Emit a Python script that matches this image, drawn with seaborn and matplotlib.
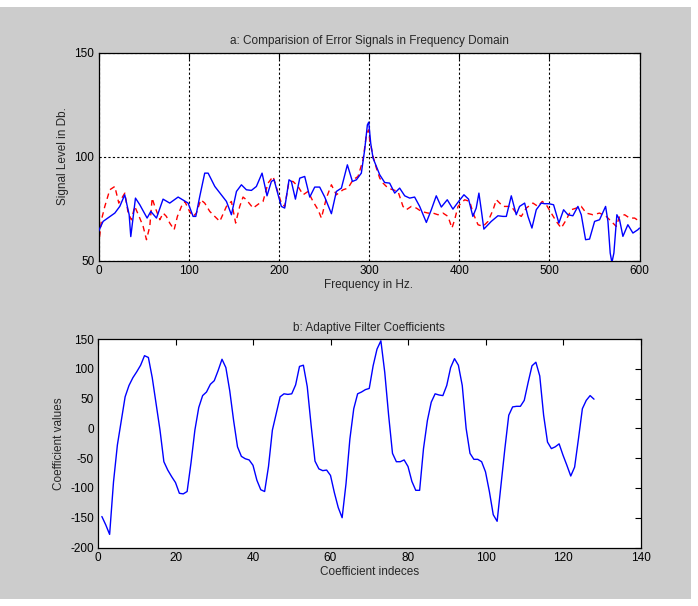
import matplotlib
matplotlib.use("Agg")
import matplotlib.pyplot as plt
from matplotlib import font_manager
import seaborn as sns
import numpy as np

# ---------------- data ----------------
blue_freq = [0, 5.1, 18.1, 23.6, 29.1, 34.0, 35.8, 41.0, 45.8, 53.9, 58.0, 64.3, 71.6, 79.0,
             88.3, 99.4, 104.9, 107.9, 112.3, 117.8, 121.6, 129.0, 141.9, 147.4, 153.0, 158.5,
             164.0, 169.6, 175.1, 181.4, 186.9, 191.7, 194.7, 199.2, 202.8, 206.5, 211.3,
             213.9, 218.4, 223.2, 228.7, 234.3, 239.8, 245.3, 250.9, 258.3, 263.8, 269.4,
             276.0, 281.6, 286.0, 291.5, 295.2, 298.2, 299.7, 301.9, 304.5, 308.2, 311.9,
             317.4, 322.9, 328.5, 334.0, 339.6, 345.1, 350.6, 356.2, 363.6, 369.1, 374.6,
             380.2, 386.8, 393.1, 399.4, 405.3, 410.4, 415.2, 418.9, 421.9, 424.5, 427.4,
             435.6, 443.0, 448.6, 452.3, 457.8, 463.3, 467.0, 472.6, 476.3, 480.7, 485.5,
             491.0, 494.7, 499.5, 504.7, 510.6, 515.8, 520.6, 526.1, 531.7, 535.4, 540.2,
             544.6, 550.2, 555.7, 562.4, 565.0, 567.5, 569.4, 571.6, 574.9, 577.9, 581.6,
             587.1, 592.7, 598.2, 600.0]
blue_db = [64.0, 68.8, 72.8, 76.0, 81.6, 72.0, 61.5, 80.0, 76.8, 70.4, 73.6, 70.4, 79.5, 77.6,
           80.5, 77.6, 71.2, 71.2, 80.8, 92.0, 92.0, 85.6, 78.4, 72.0, 83.2, 86.4,
           84.0, 83.7, 85.6, 92.0, 81.1, 88.0, 88.8, 81.6, 76.0, 75.2, 88.8,
           88.0, 79.5, 89.6, 90.4, 80.5, 85.3, 85.3, 80.5, 72.5, 83.2, 84.8,
           96.0, 88.0, 88.8, 92.0, 103.2, 115.2, 116.5, 106.4, 99.2, 95.2, 91.2,
           87.5, 87.2, 82.4, 84.8, 81.1, 80.0, 80.5, 76.0, 68.3, 74.4, 81.1,
           75.7, 79.2, 74.7, 78.4, 81.6, 79.5, 71.2, 75.2, 82.4, 74.4, 65.1,
           68.8, 71.5, 71.2, 71.2, 81.1, 72.0, 76.0, 77.6, 71.2, 65.6, 74.4,
           77.6, 77.3, 77.3, 76.8, 68.0, 74.4, 72.0, 71.5, 76.0, 72.0, 60.0,
           60.3, 68.8, 69.6, 76.0, 68.8, 53.6, 49.0, 53.6, 72.0, 69.6, 61.6,
           67.2, 63.2, 64.8, 65.6]

red_freq = [0, 3.3, 7.0, 12.5, 18.1, 22.5, 29.2, 32.9, 36.5, 40.2, 45.0, 49.5, 53.2, 56.9,
            59.5, 62.4, 68.0, 71.7, 75.3, 79.0, 83.9, 87.5, 92.0, 95.7, 101.0, 104.9, 108.6,
            113.4, 117.8, 123.4, 128.9, 134.5, 141.9, 147.4, 152.1, 156.6, 160.3, 164.0,
            171.4, 178.8, 182.5, 188.0, 193.6, 199.2, 202.8, 206.5, 211.3, 215.8, 221.3,
            226.9, 232.4, 237.9, 243.5, 247.2, 252.7, 258.3, 263.8, 271.2, 276.7, 282.3,
            287.8, 293.4, 297.1, 299.5, 300.8, 304.5, 308.2, 311.9, 315.6, 321.1, 326.6,
            332.2, 337.7, 341.4, 346.9, 352.5, 358.0, 365.4, 371.0, 376.5, 382.0, 387.6,
            392.0, 395.0, 398.7, 406.1, 411.7, 415.4, 420.9, 426.5, 432.0, 437.6, 441.3,
            448.6, 457.8, 463.3, 468.9, 474.4, 481.8, 487.4, 492.2, 496.6, 502.1, 507.7,
            513.2, 518.8, 524.3, 529.9, 535.4, 540.9, 548.3, 555.7, 563.1, 568.7, 574.2,
            577.9, 583.5, 589.0, 594.6, 600.0]
red_db = [56.7, 69.6, 76.0, 84.0, 85.6, 77.6, 82.4, 72.8, 69.6, 76.0, 71.2, 66.4, 60.0, 66.4,
          80.0, 76.0, 69.6, 72.8, 71.2, 68.0, 64.8, 71.2, 76.0, 78.4, 73.6, 71.2, 72.8,
          79.2, 77.6, 73.6, 71.2, 68.8, 76.0, 78.4, 68.0, 76.0, 80.5, 79.2,
          75.2, 77.6, 78.4, 87.2, 90.4, 82.4, 77.6, 76.0, 88.0, 88.0, 85.6,
          81.6, 83.2, 78.4, 74.4, 70.4, 80.0, 86.4, 81.6, 84.0, 84.8, 88.8,
          90.4, 98.4, 110.4, 112.8, 108.0, 100.0, 94.4, 89.6, 87.2, 84.8, 84.0,
          83.2, 76.0, 74.4, 76.0, 75.2, 73.6, 72.8, 72.8, 72.0, 72.8, 71.2,
          65.6, 69.6, 76.0, 79.2, 78.4, 72.8, 67.2, 66.4, 68.8, 74.4, 79.2,
          76.0, 76.0, 72.8, 71.2, 75.2, 77.6, 76.0, 78.4, 76.8, 72.8, 68.8,
          65.6, 69.6, 74.4, 75.2, 76.0, 72.8, 72.0, 72.8, 71.2, 68.8, 66.4,
          71.2, 72.0, 70.4, 70.4, 68.8]

coef_index = list(range(1, 129))
coef_values = [-148, -162, -178, -90, -28, 13, 53, 72, 85, 95, 106, 122, 119, 85, 41, -3,
               -56, -70, -81, -91, -109, -110, -106, -58, -3, 35, 55, 61, 74, 80, 97, 116,
               102, 63, 13, -31, -47, -51, -53, -62, -87, -103, -106, -64, -3, 25, 53, 58,
               57, 58, 73, 104, 106, 70, 5, -55, -68, -71, -70, -79, -108, -133, -150, -93,
               -18, 33, 58, 61, 65, 67, 105, 133, 147, 94, 22, -42, -56, -56, -53, -64,
               -89, -104, -104, -34, 13, 44, 58, 56, 55, 72, 102, 117, 106, 72, 0, -42,
               -52, -52, -56, -73, -106, -145, -156, -95, -34, 22, 36, 37, 37, 47, 77, 105,
               111, 88, 22, -23, -34, -31, -26, -45, -62, -80, -65, -17, 33, 47, 55, 49]

top_xticks = [0, 100, 200, 300, 400, 500, 600]
top_yticks = [50, 100, 150]
bot_xticks = [0, 20, 40, 60, 80, 100, 120, 140]
bot_yticks = [-200, -150, -100, -50, 0, 50, 100, 150]

top_title = "a: Comparision of Error Signals in Frequency Domain"
top_xlabel = "Frequency in Hz."
top_ylabel = "Signal Level in Db."
bot_title = "b: Adaptive Filter Coefficients"
bot_xlabel = "Coefficient indeces"
bot_ylabel = "Coefficient values"

# ---------------- style ----------------
sns.set_style("white")
names = {f.name for f in font_manager.fontManager.ttflist}
fam = "Liberation Sans Narrow" if "Liberation Sans Narrow" in names else "Liberation Sans"
plt.rcParams["font.family"] = [fam, "DejaVu Sans"]
plt.rcParams["font.size"] = 8
plt.rcParams["axes.unicode_minus"] = False
FS = 8.5

W, H = 698, 606
fig = plt.figure(figsize=(W / 100, H / 100), dpi=100, facecolor="white")
# gray panel
fig.patches.append(plt.Rectangle((0, 1 - 599 / H), 691 / W, 592 / H,
                                 transform=fig.transFigure, facecolor="#cccccc",
                                 edgecolor="none", zorder=-10))


def px_axes(left, top, right, bottom):
    return fig.add_axes([left / W, 1 - bottom / H, (right - left) / W, (bottom - top) / H])


ax1 = px_axes(98.5, 52.5, 639.5, 260.5)
ax2 = px_axes(98.0, 339.0, 640.5, 547.5)

for ax in (ax1, ax2):
    ax.set_facecolor("white")
    for s in ax.spines.values():
        s.set_color("black")
        s.set_linewidth(0.9)
        s.set_visible(True)
    ax.tick_params(direction="in", length=4, width=0.8, top=True, right=True,
                   labelsize=FS, colors="black", pad=3)

sns.lineplot(x=blue_freq, y=blue_db, ax=ax1, color="#0000ff", linewidth=1.0,
             sort=False, estimator=None, zorder=3)
sns.lineplot(x=red_freq, y=red_db, ax=ax1, color="#ff0000", linewidth=1.0,
             sort=False, estimator=None, linestyle=(0, (4, 3)), zorder=2)
ax1.set_xlim(0, 600)
ax1.set_ylim(50, 150)
ax1.set_xticks(top_xticks)
ax1.set_yticks(top_yticks)
ax1.grid(True, color="black", linestyle=(0, (2, 2)), linewidth=0.8)
ax1.set_axisbelow(True)
ax1.set_title(top_title, fontsize=FS, pad=6)
ax1.set_xlabel(top_xlabel, fontsize=FS, labelpad=2)
ax1.set_ylabel(top_ylabel, fontsize=FS, labelpad=4)

sns.lineplot(x=coef_index, y=coef_values, ax=ax2, color="#0000ff", linewidth=1.0,
             sort=False, estimator=None)
ax2.set_xlim(0, 140)
ax2.set_ylim(-200, 150)
ax2.set_xticks(bot_xticks)
ax2.set_yticks(bot_yticks)
ax2.set_title(bot_title, fontsize=FS, pad=6)
ax2.set_xlabel(bot_xlabel, fontsize=FS, labelpad=2)
ax2.set_ylabel(bot_ylabel, fontsize=FS, labelpad=4)

fig.savefig("out.png", dpi=100, facecolor=fig.get_facecolor())
